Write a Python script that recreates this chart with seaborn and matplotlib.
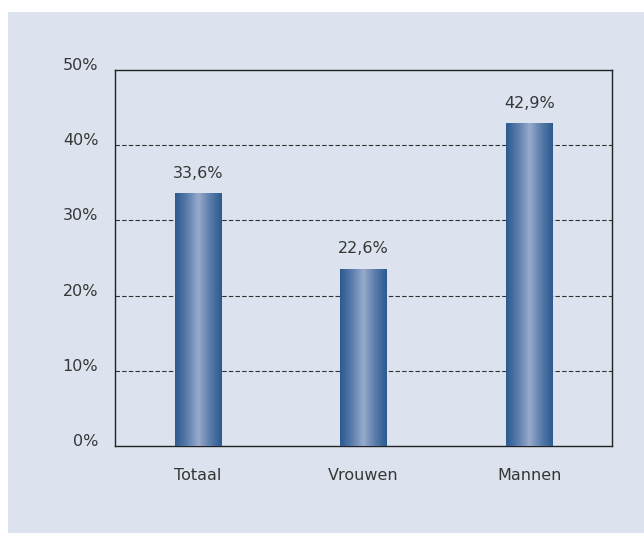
import numpy as np
import pandas as pd
import matplotlib
matplotlib.use("Agg")
import matplotlib.pyplot as plt
from matplotlib.colors import LinearSegmentedColormap
from matplotlib.patches import Rectangle
import seaborn as sns

# ── DATA ──────────────────────────────────────────────────────
groups     = ["Totaal", "Vrouwen", "Mannen"]
shares     = [33.6, 23.6, 42.9]          # bar heights as drawn in the source
bar_labels = ["33,6%", "22,6%", "42,9%"]
y_ticks    = [0, 10, 20, 30, 40, 50]
y_tick_txt = ["0%", "10%", "20%", "30%", "40%", "50%"]

PANEL = "#dce3ee"
TEXT  = "#363636"

sns.set_style("white")
plt.rcParams["font.family"] = ["DejaVu Sans"]

df = pd.DataFrame({"groep": groups, "aandeel": shares})

fig = plt.figure(figsize=(6.44, 5.33), dpi=100, facecolor="white")
fig.patches.append(Rectangle((8 / 644, 0), 1, 1 - 12 / 533, transform=fig.transFigure,
                             facecolor=PANEL, edgecolor="none", zorder=-10))
ax = fig.add_axes([115 / 644, 87 / 533, 497 / 644, 376 / 533])
ax.set_facecolor(PANEL)

sns.barplot(data=df, x="groep", y="aandeel", order=groups, width=0.28,
            color="#3a6498", ax=ax, zorder=3)

# gradient fill: dark edges, light centre
grad = LinearSegmentedColormap.from_list(
    "bar", ["#2c5a8f", "#5a7cab", "#98aacc", "#5a7cab", "#2c5a8f"])
ramp = np.linspace(0, 1, 200).reshape(1, -1)
for patch in ax.patches:
    x0, y0 = patch.get_x(), patch.get_y()
    w, h = patch.get_width(), patch.get_height()
    patch.set_facecolor("none")
    patch.set_edgecolor("none")
    im = ax.imshow(ramp, cmap=grad, aspect="auto", extent=(x0, x0 + w, y0, y0 + h),
                   zorder=3, interpolation="bilinear")
    im.set_clip_path(patch)

for i, (v, lab) in enumerate(zip(shares, bar_labels)):
    ax.annotate(lab, (i, v), xytext=(0, 9), textcoords="offset points",
                ha="center", va="bottom", fontsize=11.5, color=TEXT)

ax.set_xlim(-0.5, 2.5)
ax.set_ylim(0, 50)
ax.set_yticks(y_ticks)
ax.set_yticklabels(y_tick_txt)
for lbl in ax.get_yticklabels():
    lbl.set_va("baseline")
for t in [10, 20, 30, 40]:
    ax.axhline(t, color="#333333", lw=0.8, ls=(0, (4, 2)), zorder=1)

ax.tick_params(axis="both", length=0, labelsize=11.5, labelcolor=TEXT)
ax.tick_params(axis="y", pad=12)
ax.tick_params(axis="x", pad=16)
ax.set_xlabel("")
ax.set_ylabel("")
for s in ax.spines.values():
    s.set_visible(True)
    s.set_color("#222222")
    s.set_linewidth(1.0)

fig.savefig("out.png", dpi=100, facecolor="white")
